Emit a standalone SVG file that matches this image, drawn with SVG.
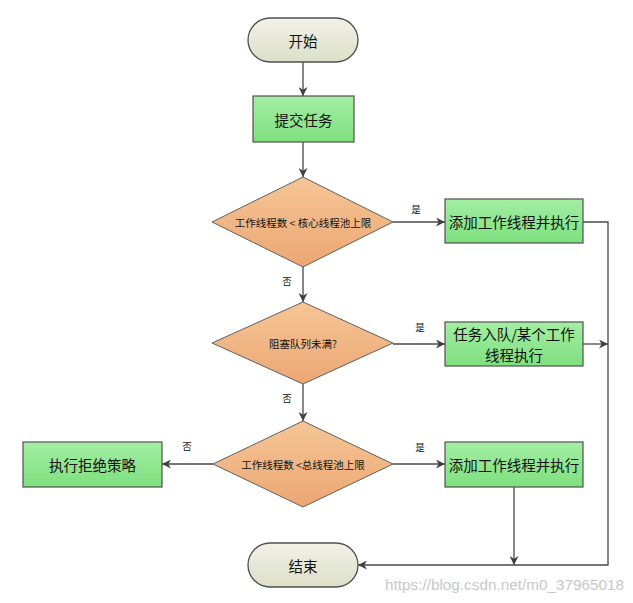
<svg xmlns="http://www.w3.org/2000/svg" width="633" height="603" viewBox="0 0 633 603">
<defs>
<linearGradient id="gTerm" x1="0" y1="0" x2="0" y2="1"><stop offset="0" stop-color="#f1f2e6"/><stop offset="1" stop-color="#dcdfc8"/></linearGradient>
<linearGradient id="gBox" x1="0" y1="0" x2="0" y2="1"><stop offset="0" stop-color="#a3eea3"/><stop offset="1" stop-color="#7ee07e"/></linearGradient>
<linearGradient id="gDia" x1="0" y1="0" x2="0" y2="1"><stop offset="0" stop-color="#f6c596"/><stop offset="1" stop-color="#eba774"/></linearGradient>
<marker id="arr" viewBox="0 0 10 10" refX="10" refY="5" markerWidth="9" markerHeight="9" markerUnits="userSpaceOnUse" orient="auto"><path d="M0,0 L10,5 L0,10 L3,5 z" fill="#404040"/></marker>
</defs>
<style>
.term{fill:url(#gTerm);stroke:#505050;stroke-width:1.3}
.box{fill:url(#gBox);stroke:#505050;stroke-width:1.2}
.dia{fill:url(#gDia);stroke:#606060;stroke-width:1}
.t{font-family:"Noto Sans CJK SC","Noto Sans",sans-serif;fill:#111;text-anchor:middle;dominant-baseline:central}
.big{font-size:14.5px}
.sm{font-size:10.5px}
.lbl{font-size:9.5px}
.c{fill:none;stroke:#484848;stroke-width:1.3}
.wm{font-family:"Liberation Sans",sans-serif;font-size:15.3px;fill:#c8c8c8}
</style>
<g id="connectors">
<line class="c" x1="303" y1="62" x2="303" y2="96" marker-end="url(#arr)"/>
<line class="c" x1="303" y1="142" x2="303" y2="177" marker-end="url(#arr)"/>
<line class="c" x1="393" y1="222" x2="445" y2="222" marker-end="url(#arr)"/>
<line class="c" x1="303" y1="267" x2="303" y2="302" marker-end="url(#arr)"/>
<line class="c" x1="393" y1="344" x2="445" y2="344" marker-end="url(#arr)"/>
<line class="c" x1="303" y1="384" x2="303" y2="421" marker-end="url(#arr)"/>
<line class="c" x1="213" y1="464" x2="162" y2="464" marker-end="url(#arr)"/>
<line class="c" x1="393" y1="464" x2="445" y2="464" marker-end="url(#arr)"/>
<line class="c" x1="583" y1="344" x2="608" y2="344" marker-end="url(#arr)"/>
<line class="c" x1="514" y1="487" x2="514" y2="565" marker-end="url(#arr)"/>
<polyline class="c" points="583,222 608,222 608,565 358,565" marker-end="url(#arr)"/>
<text class="t lbl" x="416" y="209">是</text>
<text class="t lbl" x="287" y="281">否</text>
<text class="t lbl" x="420" y="327">是</text>
<text class="t lbl" x="287" y="398">否</text>
<text class="t lbl" x="187" y="446">否</text>
<text class="t lbl" x="420" y="447">是</text>
</g>
<g id="start"><rect class="term" x="248" y="18" width="110" height="44" rx="22"/><text class="t big" x="303" y="40">开始</text></g>
<g id="submit"><rect class="box" x="253" y="96" width="101" height="46"/><text class="t big" x="303.5" y="119">提交任务</text></g>
<g id="d1"><polygon class="dia" points="303,177 393,222 303,267 212,222"/><text class="t sm" x="303" y="222">工作线程数 &lt; 核心线程池上限</text></g>
<g id="b1"><rect class="box" x="445" y="199" width="138" height="44"/><text class="t big" x="514" y="221">添加工作线程并执行</text></g>
<g id="d2"><polygon class="dia" points="303,302 393,343 303,384 212,343"/><text class="t sm" x="303" y="343">阻塞队列未满?</text></g>
<g id="b2"><rect class="box" x="445" y="322" width="138" height="44"/><text class="t big" x="514" y="333">任务入队/某个工作</text><text class="t big" x="514" y="354">线程执行</text></g>
<g id="d3"><polygon class="dia" points="303,421 393,464 303,507 213,464"/><text class="t sm" x="303" y="464">工作线程数 &lt;总线程池上限</text></g>
<g id="reject"><rect class="box" x="23" y="442" width="139" height="45"/><text class="t big" x="92.5" y="464">执行拒绝策略</text></g>
<g id="b3"><rect class="box" x="445" y="442" width="138" height="45"/><text class="t big" x="514" y="464">添加工作线程并执行</text></g>
<g id="end"><rect class="term" x="248" y="543" width="110" height="44" rx="22"/><text class="t big" x="303" y="565">结束</text></g>
<text class="wm" x="385" y="590">https://blog.csdn.net/m0_37965018</text>
</svg>
